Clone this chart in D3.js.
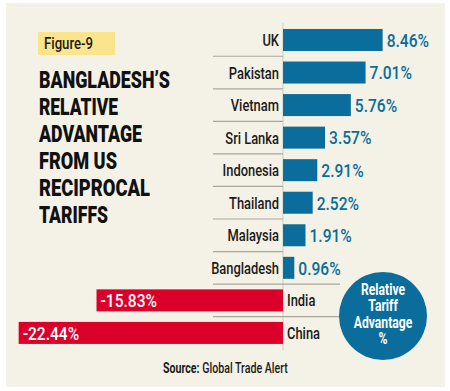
<!DOCTYPE html>
<html><head><meta charset="utf-8">
<script src="https://cdn.jsdelivr.net/npm/d3@7"></script>
<style>
html,body{margin:0;padding:0;background:#fff;}
text{font-family:Roboto,"DejaVu Sans Condensed",sans-serif;}
</style></head>
<body><svg id="c" width="450" height="391"></svg>
<script>
const categories = ["UK","Pakistan","Vietnam","Sri Lanka","Indonesia","Thailand","Malaysia","Bangladesh","India","China"];
const values = [8.46,7.01,5.76,3.57,2.91,2.52,1.91,0.96,-15.83,-22.44];
const valueLabels = ["8.46%","7.01%","5.76%","3.57%","2.91%","2.52%","1.91%","0.96%","-15.83%","-22.44%"];
const titleLines = ["BANGLADESH\u2019S","RELATIVE","ADVANTAGE","FROM US","RECIPROCAL","TARIFFS"];
const titleWidths = [131,79,103,78,111,69];
const figureLabel = "Figure-9";
const circleLines = ["Relative","Tariff","Advantage","%"];

const svg = d3.select("#c");
svg.append("rect").attr("x",6).attr("y",3).attr("width",439).attr("height",384).attr("fill","#f4f2e6");

const k = 11.78, x0 = 283;
const x = d3.scaleLinear().domain([-24,14]).range([x0-24*k, x0+14*k]);
const y = d3.scaleBand().domain(categories).range([23.7,349.2]).paddingInner(0.324).paddingOuter(0.162);
const step = y.step();
const SX = 0.76;

// zero axis line
svg.append("line").attr("x1",x(0)).attr("x2",x(0)).attr("y1",23).attr("y2",350).attr("stroke","#cfccbf").attr("stroke-width",1);

// separators
categories.slice(0,-1).forEach((c,i)=>{
  const yy = y(c)+y.bandwidth()/2+step/2;
  svg.append("line").attr("x1",213).attr("x2", i>=7?340:x(0)).attr("y1",yy).attr("y2",yy)
    .attr("stroke","#a9a79c").attr("stroke-width",1.2);
});

const data = categories.map((c,i)=>({c,v:values[i],l:valueLabels[i]}));
svg.selectAll(".bar").data(data).join("rect")
  .attr("x",d=>x(Math.min(0,d.v))).attr("width",d=>Math.abs(x(d.v)-x(0)))
  .attr("y",d=>y(d.c)).attr("height",y.bandwidth())
  .attr("fill",d=>d.v>=0?"#0a6d9b":"#da0029");

svg.selectAll("g.cat").data(data).join("g").attr("class","cat")
  .attr("transform",d=>`translate(${d.v>=0?x(0)-4:x(0)+4},${y(d.c)+y.bandwidth()/2}) scale(${SX},1)`)
  .append("text").attr("dy","0.36em")
  .attr("text-anchor",d=>d.v>=0?"end":"start")
  .attr("font-size",17).attr("font-weight",500).attr("fill","#1a1a1a").text(d=>d.c);

svg.selectAll("g.val").data(data).join("g").attr("class","val")
  .attr("transform",d=>`translate(${x(d.v)+4},${y(d.c)+y.bandwidth()/2}) scale(0.82,1)`)
  .append("text").attr("dy","0.36em")
  .attr("font-size",19).attr("font-weight",500).attr("fill",d=>d.v>=0?"#0a6d9b":"#fff").text(d=>d.l);

// figure label
svg.append("rect").attr("x",38).attr("y",32).attr("width",77).attr("height",23).attr("fill","#fbe58c");
svg.append("g").attr("transform",`translate(44,49) scale(0.8,1)`).append("text")
  .attr("font-size",16.5).attr("font-weight",500).attr("fill","#1a1a1a").text(figureLabel);

// title
svg.selectAll(".title").data(titleLines).join("text").attr("class","title")
  .attr("x",39).attr("y",(d,i)=>87.5+i*27)
  .attr("textLength",(d,i)=>titleWidths[i]).attr("lengthAdjust","spacingAndGlyphs")
  .attr("font-size",23).attr("font-weight","900").attr("fill","#111").text(d=>d);

// circle
svg.append("circle").attr("cx",383).attr("cy",316).attr("r",44).attr("fill","#0a6d9b");
svg.selectAll("g.cl").data(circleLines).join("g").attr("class","cl")
  .attr("transform",(d,i)=>`translate(383,${295+i*16.3}) scale(${SX},1)`)
  .append("text").attr("text-anchor","middle")
  .attr("font-size",16).attr("font-weight","bold").attr("fill","#fff").text(d=>d);

// source
const s = svg.append("g").attr("transform",`translate(163,373) scale(${SX},1)`).append("text")
  .attr("font-size",14).attr("font-weight",500).attr("fill","#1a1a1a");
s.append("tspan").attr("font-weight","bold").text("Source:");
s.append("tspan").text(" Global Trade Alert");
</script></body></html>
